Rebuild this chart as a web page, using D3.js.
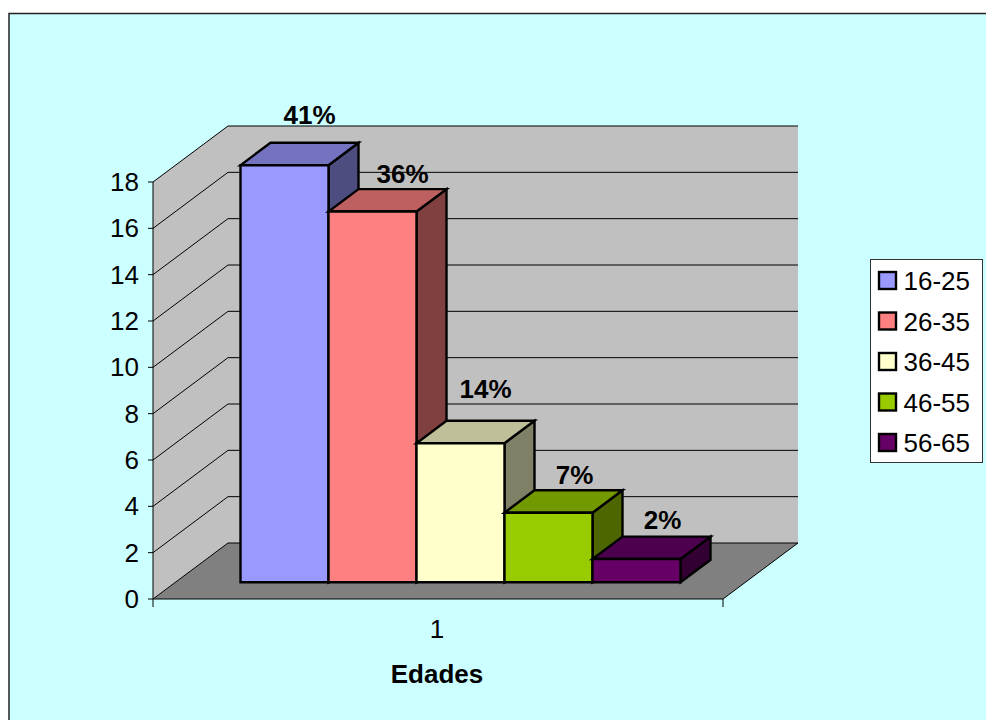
<!DOCTYPE html>
<html>
<head>
<meta charset="utf-8">
<script src="https://cdn.jsdelivr.net/npm/d3@7"></script>
<style>
    html, body { margin: 0; padding: 0; background: #fff; }
    svg { display: block; }
    text { font-family: "Liberation Sans", Arial, sans-serif; fill: #000; }
</style>
</head>
<body>
<div id="chart"></div>
<script>
var ageGroups = ["16-25", "26-35", "36-45", "46-55", "56-65"];
var counts = [18, 16, 6, 3, 1];
var percentLabels = ["41%", "36%", "14%", "7%", "2%"];
var frontColors = ["#9999ff", "#ff8080", "#ffffcc", "#99cc00", "#660066"];
var topColors = ["#7373bf", "#bf6060", "#bfbf99", "#739900", "#4d004d"];
var sideColors = ["#4d4d80", "#804040", "#808066", "#4d6600", "#330033"];
var yTicks = [0, 2, 4, 6, 8, 10, 12, 14, 16, 18];
var categoryLabel = "1";
var axisTitle = "Edades";

var width = 986, height = 720, fontSize = 26;
var svg = d3.select("#chart").append("svg")
    .attr("width", width)
    .attr("height", height);

// chart area, only its left and top edges fall inside the window
svg.append("rect")
    .attr("x", 9).attr("y", 13.5)
    .attr("width", width).attr("height", height)
    .attr("fill", "#ccffff");
svg.append("path")
    .attr("d", "M 9 " + height + " V 13.5 H " + width)
    .attr("fill", "none")
    .attr("stroke", "#222")
    .attr("stroke-width", 1.5);

var y = d3.scaleLinear().domain([0, 18]).range([599, 182]);
var x = d3.scaleBand().domain(ageGroups).range([218, 658]);
var depthX = d3.scaleLinear().domain([0, 1]).range([0, 75]);
var depthY = d3.scaleLinear().domain([0, 1]).range([0, -56]);
var left = 153, right = 723;
var barFront = 0.3, barBack = 0.7;

// project a point of the plot box (x in pixels, value, depth 0..1) to the screen
function pt(px, value, depth){
    return [px + depthX(depth), y(value) + depthY(depth)];
}
function poly(parent, points, fill, stroke, strokeWidth){
    return parent.append("polygon")
        .attr("points", points.map(function(p){ return p.join(","); }).join(" "))
        .attr("fill", fill)
        .attr("stroke", stroke)
        .attr("stroke-width", strokeWidth)
        .attr("stroke-linejoin", "miter");
}
function hline(parent, p1, p2, color, strokeWidth){
    parent.append("line")
        .attr("x1", p1[0]).attr("y1", p1[1])
        .attr("x2", p2[0]).attr("y2", p2[1])
        .attr("stroke", color)
        .attr("stroke-width", strokeWidth);
}

// walls and floor
var walls = svg.append("g");
poly(walls, [pt(left, 0, 1), pt(right, 0, 1), pt(right, 18, 1), pt(left, 18, 1)], "#c0c0c0", "none", 0);
poly(walls, [pt(left, 0, 0), pt(left, 0, 1), pt(left, 18, 1), pt(left, 18, 0)], "#c0c0c0", "none", 0);
poly(walls, [pt(left, 0, 0), pt(right, 0, 0), pt(right, 0, 1), pt(left, 0, 1)], "#808080", "#000", 1);

yTicks.forEach(function(t){
    if(t > 0){
        hline(walls, pt(left, t, 0), pt(left, t, 1), "#000", 1);
        hline(walls, pt(left, t, 1), pt(right, t, 1), "#000", 1);
    }
    hline(walls, [left - 5, y(t)], [left, y(t)], "#000", 1);
});
hline(walls, [left, y(0)], [left, y(18)], "#000", 1);
hline(walls, [left, y(0)], [left, y(0) + 8], "#000", 1);
hline(walls, [right, y(0)], [right, y(0) + 8], "#000", 1);

// y axis labels
svg.append("g").selectAll("text")
    .data(yTicks)
    .enter().append("text")
    .attr("x", 139)
    .attr("y", function(d){ return y(d) + 9; })
    .attr("text-anchor", "end")
    .attr("font-size", fontSize)
    .text(function(d){ return d; });

// bars, drawn left to right so that each one overlaps the side of the one before
var bars = svg.append("g");
ageGroups.forEach(function(name, i){
    var x0 = x(name), x1 = x0 + x.bandwidth(), v = counts[i];
    var g = bars.append("g").attr("class", "bar");
    poly(g, [pt(x1, 0, barFront), pt(x1, 0, barBack), pt(x1, v, barBack), pt(x1, v, barFront)], sideColors[i], "#000", 2.4);
    poly(g, [pt(x0, v, barFront), pt(x1, v, barFront), pt(x1, v, barBack), pt(x0, v, barBack)], topColors[i], "#000", 2.4);
    poly(g, [pt(x0, 0, barFront), pt(x1, 0, barFront), pt(x1, v, barFront), pt(x0, v, barFront)], frontColors[i], "#000", 2.4);
});

// percentage labels above the back edge of each bar, the original nudges each one a bit
var nudgeX = [-5, 0, -5, -4, -4];
var nudgeY = [-19, -6, -23, -6, -8];
svg.append("g").selectAll("text")
    .data(ageGroups)
    .enter().append("text")
    .attr("x", function(d, i){ return pt(x(d) + x.bandwidth() / 2, 0, barBack)[0] + nudgeX[i]; })
    .attr("y", function(d, i){ return pt(0, counts[i], barBack)[1] + nudgeY[i]; })
    .attr("text-anchor", "middle")
    .attr("font-size", fontSize)
    .attr("font-weight", "bold")
    .text(function(d, i){ return percentLabels[i]; });

// category and axis title
svg.append("text")
    .attr("x", 437).attr("y", 638)
    .attr("text-anchor", "middle")
    .attr("font-size", fontSize)
    .text(categoryLabel);
svg.append("text")
    .attr("x", 437).attr("y", 683)
    .attr("text-anchor", "middle")
    .attr("font-size", fontSize)
    .attr("font-weight", "bold")
    .text(axisTitle);

// legend
var legend = svg.append("g");
legend.append("rect")
    .attr("x", 870.5).attr("y", 259.5)
    .attr("width", 112).attr("height", 203)
    .attr("fill", "#fff")
    .attr("stroke", "#333");
var legendY = d3.scalePoint().domain(ageGroups).range([281, 443]);
ageGroups.forEach(function(name, i){
    legend.append("rect")
        .attr("x", 879).attr("y", legendY(name) - 9)
        .attr("width", 17).attr("height", 17)
        .attr("fill", frontColors[i])
        .attr("stroke", "#000")
        .attr("stroke-width", 2.4);
    legend.append("text")
        .attr("x", 903.5).attr("y", legendY(name) + 9)
        .attr("font-size", fontSize)
        .text(name);
});
</script>
</body>
</html>
